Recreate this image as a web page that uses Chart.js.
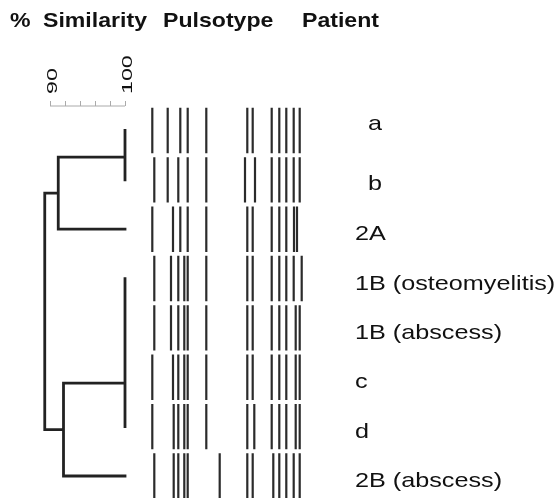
<!DOCTYPE html>
<html><head><meta charset="utf-8">
<script src="https://cdn.jsdelivr.net/npm/chart.js@4/dist/chart.umd.min.js"></script>
<style>html,body{margin:0;padding:0;background:#fff;}canvas{display:block;}</style>
</head><body>
<canvas id="c" width="556" height="498"></canvas>
<script>
// ---------- data ----------
const headings = ['%', 'Similarity', 'Pulsotype', 'Patient'];
const patients = ['a', 'b', '2A', '1B (osteomyelitis)', '1B (abscess)', 'c', 'd', '2B (abscess)'];
const similarityTicks = [90, 92, 94, 96, 98, 100];
const similarityLabelled = [90, 100];

// band migration positions (gel distance units) for each lane
const bandsA      = [152.3, 167.7, 180.3, 187.7, 206.3, 247.3, 252.7, 271.7, 279.3, 286.3, 293.7, 299.7];
const bandsB      = [154.3, 167.7, 178.3, 187.7, 206.3, 245.0, 255.0, 271.7, 279.3, 286.3, 293.7, 299.7];
const bands2A     = [152.3, 173.0, 180.3, 187.7, 206.3, 247.3, 252.7, 271.7, 279.3, 286.3, 294.0, 297.0];
const bands1Bost  = [154.3, 171.0, 178.3, 184.3, 187.7, 206.3, 247.3, 252.7, 271.7, 279.3, 286.3, 293.7, 301.7];
const bands1Babs  = [154.3, 171.0, 178.3, 184.3, 187.7, 206.3, 247.3, 252.7, 271.7, 279.3, 286.3, 295.7, 299.7];
const bandsC      = [152.3, 173.0, 178.3, 184.3, 187.7, 206.3, 247.3, 252.7, 271.7, 279.3, 286.3, 295.7, 299.7];
const bandsD      = [152.3, 173.7, 178.3, 184.3, 187.7, 206.3, 247.3, 254.3, 271.7, 279.3, 286.3, 295.7, 299.7];
const bands2B     = [154.3, 173.7, 178.3, 184.3, 187.7, 219.7, 247.3, 252.7, 273.3, 279.3, 286.3, 293.7, 299.7];
const laneBands = [bandsA, bandsB, bands2A, bands1Bost, bands1Babs, bandsC, bandsD, bands2B];

// dendrogram (UPGMA-style tree); leaves are 'L<row>', internal nodes 'N<index>'
const nodeSimilarity = [100, 91.1, 100, 91.8, 89.3];
const nodeChildren   = [['L0', 'L1'], ['N0', 'L2'], ['L3', 'L4', 'L5', 'L6'], ['N2', 'L7'], ['N1', 'N3']];
const nodeDrawnRow   = [0.54, null, 5.12, null, null]; // attachment row of identical groups as drawn

// ---------- layout (not data) ----------
const laneHalf = 0.46;
const labelX = 355;
const labelIndent = [13, 13, 0, 0, 0, 0, 0, 0];
const labelBaseline = [0, 10, 11, 11, 11, 11, 11, 11];
const headingX = [10, 43, 163, 302];

// ---------- build datasets ----------
function nodeInfo(id) {
  if (id[0] === 'L') return { sim: 100, row: +id.slice(1) };
  const i = +id.slice(1);
  const kids = nodeChildren[i].map(nodeInfo);
  const row = nodeDrawnRow[i] != null ? nodeDrawnRow[i] : kids.reduce((s, k) => s + k.row, 0) / kids.length;
  return { sim: nodeSimilarity[i], row, kids };
}
const dendroPts = [];
nodeChildren.forEach((_, i) => {
  const n = nodeInfo('N' + i);
  const rows = n.kids.map(k => k.row);
  dendroPts.push({ x: n.sim, y: Math.min(...rows) }, { x: n.sim, y: Math.max(...rows) }, { x: n.sim, y: null });
  n.kids.forEach(k => {
    if (k.sim !== n.sim) dendroPts.push({ x: n.sim, y: k.row }, { x: k.sim, y: k.row }, { x: k.sim, y: null });
  });
});

const gelPts = [];
laneBands.forEach((lane, row) => {
  lane.forEach(p => gelPts.push({ x: p, y: row - laneHalf }, { x: p, y: row + laneHalf }, { x: p, y: null }));
});

const axisPts = [{ x: similarityTicks[0], y: -0.496 }, { x: similarityTicks[similarityTicks.length - 1], y: -0.496 }];

function stretchText(ctx, s, x, y, sx) {
  ctx.save(); ctx.translate(x, y); ctx.scale(sx, 1); ctx.fillText(s, 0, 0); ctx.restore();
}

const textPlugin = {
  id: 'texts',
  afterDraw(chart) {
    const ctx = chart.ctx, ys = chart.scales.y, xs = chart.scales.x;
    ctx.save();
    ctx.fillStyle = '#111';
    ctx.textBaseline = 'alphabetic';
    ctx.textAlign = 'left';
    ctx.font = 'bold 21px "Liberation Sans", Arial, sans-serif';
    headings.forEach((h, i) => stretchText(ctx, h, headingX[i], 27, 1.1));
    ctx.font = '21px "Liberation Sans", Arial, sans-serif';
    patients.forEach((p, i) => stretchText(ctx, p, labelX + labelIndent[i], ys.getPixelForValue(i) + labelBaseline[i], 1.2));
    // similarity axis labels (rotated)
    ctx.font = '15px "Liberation Sans", Arial, sans-serif';
    ctx.textBaseline = 'middle';
    const axisY = ys.getPixelForValue(-0.496);
    similarityLabelled.forEach(v => {
      ctx.save();
      ctx.translate(xs.getPixelForValue(v) + 2.5, axisY - 12);
      ctx.rotate(-Math.PI / 2);
      ctx.scale(1.55, 1);
      ctx.fillText(String(v), 0, 0);
      ctx.restore();
    });
    ctx.restore();
  }
};

new Chart(document.getElementById('c'), {
  type: 'scatter',
  data: {
    datasets: [
      { data: dendroPts, xAxisID: 'x', showLine: true, borderColor: '#222', borderWidth: 2.8, pointRadius: 0, spanGaps: false, clip: false, borderCapStyle: 'square' },
      { data: gelPts, xAxisID: 'xGel', showLine: true, borderColor: '#2b2b2b', borderWidth: 2.2, pointRadius: 0, spanGaps: false, clip: false },
      { data: axisPts, xAxisID: 'x', showLine: true, borderColor: '#aaa', borderWidth: 1, pointRadius: 0, clip: false }
    ]
  },
  options: {
    responsive: false,
    animation: false,
    devicePixelRatio: 1,
    layout: { padding: 0 },
    plugins: { legend: { display: false }, tooltip: { enabled: false }, title: { display: false } },
    scales: {
      x: {
        type: 'linear', position: 'top', min: 83.333, max: 157.467,
        afterBuildTicks: s => { s.ticks = similarityTicks.map(v => ({ value: v })); },
        afterFit: s => { s.height = 106; },
        border: { display: false },
        grid: { drawOnChartArea: false, drawTicks: true, tickLength: 5, color: '#aaa', lineWidth: 1 },
        ticks: { display: false }
      },
      xGel: { type: 'linear', display: false, min: 0, max: 556 },
      y: { type: 'linear', display: false, reverse: true, min: -0.496, max: 7.446 }
    }
  },
  plugins: [textPlugin]
});
</script>
</body></html>
